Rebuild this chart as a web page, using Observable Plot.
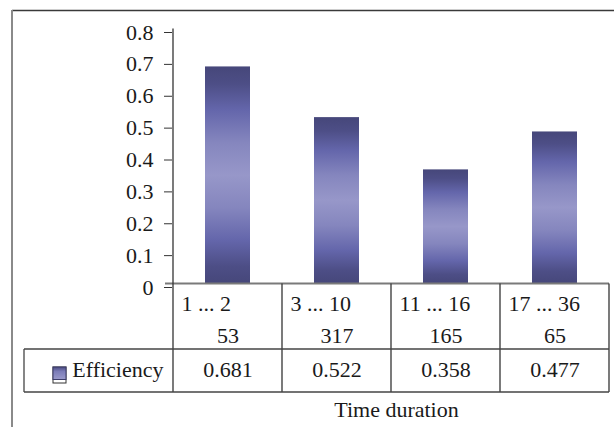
<!DOCTYPE html>
<html><head><meta charset="utf-8">
<script src="https://cdn.jsdelivr.net/npm/d3@7"></script>
<script src="https://cdn.jsdelivr.net/npm/@observablehq/plot@0.6"></script>
<style>
html,body{margin:0;padding:0;background:#fff;overflow:hidden;}
</style>
</head><body><div id="chart"></div>
<script>
const categories = ["1 ... 2", "3 ... 10", "11 ... 16", "17 ... 36"];
const counts = [53, 317, 165, 65];
const efficiency = [0.681, 0.522, 0.358, 0.477];
const yTicks = [0, 0.1, 0.2, 0.3, 0.4, 0.5, 0.6, 0.7, 0.8];
const seriesName = "Efficiency";
const axisTitle = "Time duration";

const data = categories.map((c, i) => ({category: c, count: String(counts[i]), efficiency: efficiency[i], label: d3.format(".3f")(efficiency[i])}));

const font = "Liberation Serif";
const fsize = 22;

function defsMark() {
  const g = d3.create("svg:defs");
  const lg = g.append("linearGradient").attr("id", "barGrad")
    .attr("x1", 0).attr("y1", 0).attr("x2", 0).attr("y2", 1);
  [[0, "#46477a"], [0.08, "#4d4e86"], [0.2, "#6466ab"], [0.35, "#8586be"], [0.5, "#9797c9"],
   [0.65, "#8586be"], [0.8, "#6466ab"], [0.92, "#4d4e86"], [1, "#46477a"]]
    .forEach(([o, c]) => lg.append("stop").attr("offset", o).attr("stop-color", c));
  const sg = g.append("linearGradient").attr("id", "swGrad")
    .attr("x1", 0).attr("y1", 0).attr("x2", 0).attr("y2", 1);
  [[0, "#4a4b80"], [0.35, "#7b7cb8"], [1, "#9a9acb"]]
    .forEach(([o, c]) => sg.append("stop").attr("offset", o).attr("stop-color", c));
  return g.node();
}

function frameMark(index, scales, values, dim) {
  const g = d3.create("svg:g");
  g.append("line").attr("x1", 12).attr("x2", dim.width).attr("y1", 10.5).attr("y2", 10.5)
    .attr("stroke", "#3a3a3a").attr("stroke-width", 1.5);
  g.append("line").attr("x1", 12).attr("x2", 12).attr("y1", 10).attr("y2", dim.height)
    .attr("stroke", "#8a8a8a").attr("stroke-width", 2);
  return g.node();
}

function tableMark(index, scales, values, dim) {
  const x = scales.x, y = scales.y;
  const y0 = y(0), yTop = y(0.8);
  const step = x(categories[1]) - x(categories[0]);
  const left = x(categories[0]);
  const right = x(categories[categories.length - 1]) + step;
  const rowLine = y0 + 65.5, bottom = y0 + 108.5;
  const g = d3.create("svg:g").attr("fill", "none");
  g.append("line").attr("x1", left).attr("x2", left).attr("y1", yTop).attr("y2", bottom)
    .attr("stroke", "#333").attr("stroke-width", 1.3);
  categories.forEach((c) => {
    const xx = x(c) + step;
    g.append("line").attr("x1", xx).attr("x2", xx).attr("y1", y0).attr("y2", bottom)
      .attr("stroke", "#333").attr("stroke-width", 1.3);
  });
  g.append("line").attr("x1", 24).attr("x2", right).attr("y1", rowLine).attr("y2", rowLine)
    .attr("stroke", "#444").attr("stroke-width", 1.3);
  g.append("line").attr("x1", 24).attr("x2", right).attr("y1", bottom).attr("y2", bottom)
    .attr("stroke", "#444").attr("stroke-width", 1.3);
  g.append("line").attr("x1", 24).attr("x2", 24).attr("y1", rowLine).attr("y2", bottom)
    .attr("stroke", "#444").attr("stroke-width", 1.3);
  const sx = left - 120, sy = y0 + 83.5;
  g.append("rect").attr("x", sx).attr("y", sy).attr("width", 13).attr("height", 16)
    .attr("fill", "#fff").attr("stroke", "#333").attr("stroke-width", 1);
  g.append("rect").attr("x", sx).attr("y", sy).attr("width", 13).attr("height", 12.5)
    .attr("fill", "url(#swGrad)").attr("stroke", "#3c3d6a").attr("stroke-width", 1);
  return g.node();
}

function baseLineMark(index, scales, values, dim) {
  const x = scales.x, y = scales.y;
  const step = x(categories[1]) - x(categories[0]);
  const right = x(categories[categories.length - 1]) + step;
  const g = d3.create("svg:g");
  g.append("line").attr("x1", x(categories[0]) - 8).attr("x2", right).attr("y1", y(0)).attr("y2", y(0))
    .attr("stroke", "#7a7a7a").attr("stroke-width", 1.8);
  return g.node();
}

const txt = {fill: "#1a1a1a", fontFamily: font, fontSize: fsize};

const chart = Plot.plot({
  width: 614,
  height: 427,
  marginLeft: 172,
  marginRight: 4,
  marginTop: 28.5,
  marginBottom: 143.5,
  style: {fontSize: fsize + "px", color: "#1a1a1a", background: "#fff"},
  x: {type: "band", domain: categories, padding: 0, axis: null},
  y: {domain: [0, 0.8], axis: null},
  marks: [
    defsMark,
    frameMark,
    Plot.barY(data, {x: "category", y: "efficiency", fill: "url(#barGrad)", insetLeft: 32, insetRight: 32}),
    baseLineMark,
    tableMark,
    Plot.axisY({ticks: yTicks, label: null, tickSize: 8, tickPadding: 11, tickFormat: d3.format("~g"), dy: 3.5, stroke: "#333", ...txt}),
    Plot.text(data, {x: "category", text: "category", frameAnchor: "bottom", dy: 26.5, dx: -46.5, textAnchor: "start", ...txt}),
    Plot.text(data, {x: "category", text: "count", frameAnchor: "bottom", dy: 58.5, ...txt}),
    Plot.text(data, {x: "category", text: "label", frameAnchor: "bottom", dy: 92.5, ...txt}),
    Plot.text([seriesName], {frameAnchor: "bottom-left", text: d => d, dy: 92.5, dx: -9, textAnchor: "end", ...txt}),
    Plot.text([axisTitle], {frameAnchor: "bottom", text: d => d, dy: 133, dx: 5, ...txt})
  ]
});
d3.select(chart).attr("font-family", font).style("font-family", font);
d3.select(chart).selectAll("text").attr("font-family", font).style("font-family", font).attr("font-size", fsize);
document.getElementById("chart").appendChild(chart);
</script>
</body></html>
